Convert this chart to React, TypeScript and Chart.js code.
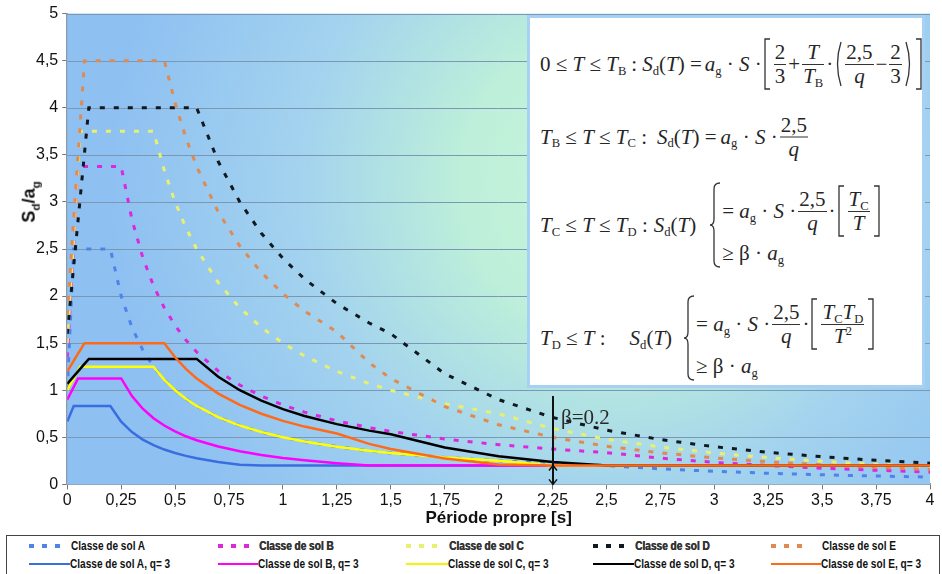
import React, { useEffect, useRef } from "react";
import { Chart, registerables } from "chart.js";
Chart.register(...registerables);

// Périodes T (s)
const periods = [0, 0.03, 0.05, 0.06, 0.08, 0.1, 0.15, 0.2, 0.25, 0.3, 0.35, 0.4, 0.45, 0.5, 0.55, 0.6, 0.7, 0.8, 0.9, 1, 1.1, 1.25, 1.4, 1.5, 1.75, 2, 2.25, 2.5, 2.75, 3, 3.25, 3.5, 3.75, 4];

// Spectres élastiques (pointillés)
const elasticA = [1.0, 2.5, 2.5, 2.5, 2.5, 2.5, 2.5, 2.5, 2.0, 1.667, 1.429, 1.25, 1.111, 1.0, 0.909, 0.833, 0.714, 0.625, 0.556, 0.5, 0.455, 0.4, 0.357, 0.333, 0.286, 0.25, 0.222, 0.2, 0.165, 0.139, 0.118, 0.102, 0.089, 0.078];
const elasticB = [1.35, 2.565, 3.375, 3.375, 3.375, 3.375, 3.375, 3.375, 3.375, 2.813, 2.411, 2.109, 1.875, 1.688, 1.534, 1.406, 1.205, 1.055, 0.938, 0.844, 0.767, 0.675, 0.603, 0.563, 0.482, 0.422, 0.375, 0.338, 0.279, 0.234, 0.2, 0.172, 0.15, 0.132];
const elasticC = [1.5, 2.625, 3.375, 3.75, 3.75, 3.75, 3.75, 3.75, 3.75, 3.75, 3.75, 3.75, 3.333, 3.0, 2.727, 2.5, 2.143, 1.875, 1.667, 1.5, 1.364, 1.2, 1.071, 1.0, 0.857, 0.75, 0.593, 0.48, 0.397, 0.333, 0.284, 0.245, 0.213, 0.188];
const elasticD = [1.6, 2.32, 2.8, 3.04, 3.52, 4.0, 4.0, 4.0, 4.0, 4.0, 4.0, 4.0, 4.0, 4.0, 4.0, 4.0, 3.429, 3.0, 2.667, 2.4, 2.182, 1.92, 1.714, 1.6, 1.176, 0.9, 0.711, 0.576, 0.476, 0.4, 0.341, 0.294, 0.256, 0.225];
const elasticE = [1.8, 2.813, 3.488, 3.825, 4.5, 4.5, 4.5, 4.5, 4.5, 4.5, 4.5, 4.5, 4.5, 4.05, 3.682, 3.375, 2.893, 2.531, 2.25, 2.025, 1.841, 1.62, 1.291, 1.125, 0.827, 0.633, 0.5, 0.405, 0.335, 0.281, 0.24, 0.207, 0.18, 0.158];

// Spectres de calcul q = 3 (traits pleins)
const designA = [0.667, 0.833, 0.833, 0.833, 0.833, 0.833, 0.833, 0.833, 0.667, 0.556, 0.476, 0.417, 0.37, 0.333, 0.303, 0.278, 0.238, 0.208, 0.2, 0.2, 0.2, 0.2, 0.2, 0.2, 0.2, 0.2, 0.2, 0.2, 0.2, 0.2, 0.2, 0.2, 0.2, 0.2];
const designB = [0.9, 1.035, 1.125, 1.125, 1.125, 1.125, 1.125, 1.125, 1.125, 0.938, 0.804, 0.703, 0.625, 0.563, 0.511, 0.469, 0.402, 0.352, 0.313, 0.281, 0.256, 0.225, 0.201, 0.2, 0.2, 0.2, 0.2, 0.2, 0.2, 0.2, 0.2, 0.2, 0.2, 0.2];
const designC = [1.0, 1.125, 1.208, 1.25, 1.25, 1.25, 1.25, 1.25, 1.25, 1.25, 1.25, 1.25, 1.111, 1.0, 0.909, 0.833, 0.714, 0.625, 0.556, 0.5, 0.455, 0.4, 0.357, 0.333, 0.286, 0.25, 0.2, 0.2, 0.2, 0.2, 0.2, 0.2, 0.2, 0.2];
const designD = [1.067, 1.147, 1.2, 1.227, 1.28, 1.333, 1.333, 1.333, 1.333, 1.333, 1.333, 1.333, 1.333, 1.333, 1.333, 1.333, 1.143, 1.0, 0.889, 0.8, 0.727, 0.64, 0.571, 0.533, 0.392, 0.3, 0.237, 0.2, 0.2, 0.2, 0.2, 0.2, 0.2, 0.2];
const designE = [1.2, 1.313, 1.388, 1.425, 1.5, 1.5, 1.5, 1.5, 1.5, 1.5, 1.5, 1.5, 1.5, 1.35, 1.227, 1.125, 0.964, 0.844, 0.75, 0.675, 0.614, 0.54, 0.43, 0.375, 0.276, 0.211, 0.2, 0.2, 0.2, 0.2, 0.2, 0.2, 0.2, 0.2];

const elasticLabels = ["Classe de sol A", "Classe de sol B", "Classe de sol C", "Classe de sol D", "Classe de sol E"];
const designLabels = ["Classe de sol A, q= 3", "Classe de sol B, q= 3", "Classe de sol C, q= 3", "Classe de sol D, q= 3", "Classe de sol E, q= 3"];

const xTickLabels = ["0", "0,25", "0,5", "0,75", "1", "1,25", "1,5", "1,75", "2", "2,25", "2,5", "2,75", "3", "3,25", "3,5", "3,75", "4"];
const yTickLabels = ["0", "0,5", "1", "1,5", "2", "2,5", "3", "3,5", "4", "4,5", "5"];

const betaPeriod = 2.25;
const betaValue = 0.2;
const betaLineTop = 0.94;
const betaText = "β=0.2";

const elasticColors = ["#4f82ea", "#dc28dc", "#e8f070", "#101820", "#e08a52"];
const designColors = ["#3a6ee0", "#ff00ff", "#ffff00", "#000000", "#ff6a1a"];

const toXY = (vals: number[]) => vals.map((y, i) => ({ x: periods[i], y }));

const bgPlugin = {
  id: "plotBg",
  beforeDatasetsDraw(chart: any) {
    const { ctx, chartArea } = chart;
    const { left, top, right, bottom } = chartArea;
    const w = right - left;
    const h = bottom - top;
    const cx = left + w * 0.63;
    const cy = top + h * 0.36;
    const g = ctx.createRadialGradient(cx, cy, 0, cx, cy, w * 0.58);
    g.addColorStop(0, "#c9f6d6");
    g.addColorStop(0.3, "#bdefda");
    g.addColorStop(0.62, "#a3d3ee");
    g.addColorStop(1, "#8ec0f2");
    ctx.save();
    ctx.fillStyle = g;
    ctx.fillRect(left, top, w, h);
    ctx.restore();
  },
};

const gridPlugin = {
  id: "gridOver",
  beforeDatasetsDraw(chart: any) {
    const { ctx, chartArea, scales } = chart;
    ctx.save();
    ctx.strokeStyle = "#7a98b4";
    ctx.lineWidth = 1;
    for (let v = 0.5; v <= 5.001; v += 0.5) {
      const y = Math.round(scales.y.getPixelForValue(v)) + 0.5;
      ctx.beginPath();
      ctx.moveTo(chartArea.left, y);
      ctx.lineTo(chartArea.right, y);
      ctx.stroke();
    }
    ctx.restore();
  },
};

const betaPlugin = {
  id: "beta",
  afterDatasetsDraw(chart: any) {
    const { ctx, scales } = chart;
    const x = Math.round(scales.x.getPixelForValue(betaPeriod));
    const y0 = scales.y.getPixelForValue(0);
    const yb = scales.y.getPixelForValue(betaValue);
    const yt = scales.y.getPixelForValue(betaLineTop);
    ctx.save();
    ctx.strokeStyle = "#111";
    ctx.lineWidth = 2;
    ctx.beginPath();
    ctx.moveTo(x, yt);
    ctx.lineTo(x, y0);
    ctx.stroke();
    ctx.lineWidth = 1.5;
    ctx.beginPath();
    ctx.moveTo(x - 4, yb + 5);
    ctx.lineTo(x, yb);
    ctx.lineTo(x + 4, yb + 5);
    ctx.moveTo(x - 4, y0 - 5);
    ctx.lineTo(x, y0);
    ctx.lineTo(x + 4, y0 - 5);
    ctx.stroke();
    ctx.fillStyle = "#2a2a2a";
    ctx.font = '21px "Liberation Serif", "Times New Roman", serif';
    ctx.textBaseline = "middle";
    ctx.fillText(betaText, x + 8, scales.y.getPixelForValue(0.7));
    ctx.restore();
  },
};

const serif = '"Liberation Serif", "Times New Roman", serif';

const Sub = ({ t }: { t: string }) => (
  <sub style={{ fontSize: "0.6em", fontStyle: "normal", verticalAlign: "-0.3em", lineHeight: 0 }}>{t}</sub>
);

const Frac = ({ n, d }: { n: React.ReactNode; d: React.ReactNode }) => (
  <span style={{ display: "inline-flex", flexDirection: "column", alignItems: "center", margin: "0 2px" }}>
    <span style={{ lineHeight: "23px", padding: "0 1px" }}>{n}</span>
    <span style={{ height: 0, borderTop: "1px solid #333", alignSelf: "stretch" }} />
    <span style={{ lineHeight: "23px", padding: "0 1px" }}>{d}</span>
  </span>
);

const Delim = ({ kind, h }: { kind: string; h: number }) => {
  let d = "";
  let w = 8;
  if (kind === "[") d = `M7,1 L2,1 L2,${h - 1} L7,${h - 1}`;
  if (kind === "]") d = `M1,1 L6,1 L6,${h - 1} L1,${h - 1}`;
  if (kind === "(") d = `M7,1 Q0,${h / 2} 7,${h - 1}`;
  if (kind === ")") d = `M1,1 Q8,${h / 2} 1,${h - 1}`;
  if (kind === "{") {
    w = 12;
    const m = h / 2;
    d = `M11,1 Q5,1 5,7 L5,${m - 6} Q5,${m} 1,${m} Q5,${m} 5,${m + 6} L5,${h - 7} Q5,${h - 1} 11,${h - 1}`;
  }
  return (
    <svg width={w} height={h} style={{ display: "block", margin: "0 1px" }}>
      <path d={d} fill="none" stroke="#333" strokeWidth={1.3} />
    </svg>
  );
};

const T = () => <i>T</i>;
const rowStyle: React.CSSProperties = {
  position: "absolute",
  left: 10,
  display: "flex",
  alignItems: "center",
  whiteSpace: "nowrap",
  transform: "translateY(-50%)",
};
const gap = (px: number) => <span style={{ display: "inline-block", width: px }} />;

function Formulas() {
  return (
    <div
      style={{
        position: "absolute",
        left: 527,
        top: 15,
        width: 392,
        height: 367,
        background: "#fff",
        border: "3px solid #a8d0f2",
        fontFamily: serif,
        fontSize: 21,
        color: "#262626",
      }}
    >
      <div style={{ ...rowStyle, top: 46 }}>
        <span>0 ≤ <T /> ≤ <T /><Sub t="B" /></span>{gap(5)}<span>:</span>{gap(5)}
        <span><i>S</i><Sub t="d" />(<T />) =</span>{gap(3)}<span><i>a</i><Sub t="g" /> · <i>S</i> ·</span>
        <Delim kind="[" h={52} />
        <Frac n="2" d="3" /><span>+</span><Frac n={<T />} d={<span><T /><Sub t="B" /></span>} /><span>·</span>
        <Delim kind="(" h={46} />
        <Frac n="2,5" d={<i>q</i>} /><span>−</span><Frac n="2" d="3" />
        <Delim kind=")" h={46} />
        <Delim kind="]" h={52} />
      </div>
      <div style={{ ...rowStyle, top: 119 }}>
        <span><T /><Sub t="B" /> ≤ <T /> ≤ <T /><Sub t="C" /> :</span>{gap(10)}
        <span><i>S</i><Sub t="d" />(<T />) =</span>{gap(4)}<span><i>a</i><Sub t="g" /> · <i>S</i> ·</span>
        <Frac n="2,5" d={<i>q</i>} />
      </div>
      <div style={{ ...rowStyle, top: 207 }}>
        <span><T /><Sub t="C" /> ≤ <T /> ≤ <T /><Sub t="D" /> :</span>{gap(6)}
        <span><i>S</i><Sub t="d" />(<T />)</span>{gap(12)}
        <Delim kind="{" h={86} />
        <div style={{ display: "flex", flexDirection: "column", alignItems: "flex-start" }}>
          <div style={{ display: "flex", alignItems: "center", height: 56 }}>
            <span>= <i>a</i><Sub t="g" /> · <i>S</i> ·</span>
            <Frac n="2,5" d={<i>q</i>} /><span>·</span>
            <Delim kind="[" h={52} />
            <Frac n={<span><T /><Sub t="C" /></span>} d={<T />} />
            <Delim kind="]" h={52} />
          </div>
          <div style={{ height: 28, display: "flex", alignItems: "center" }}>
            <span>≥ β · <i>a</i><Sub t="g" /></span>
          </div>
        </div>
      </div>
      <div style={{ ...rowStyle, top: 320 }}>
        <span><T /><Sub t="D" /> ≤ <T /> :</span>{gap(24)}
        <span><i>S</i><Sub t="d" />(<T />)</span>{gap(10)}
        <Delim kind="{" h={86} />
        <div style={{ display: "flex", flexDirection: "column", alignItems: "flex-start" }}>
          <div style={{ display: "flex", alignItems: "center", height: 56 }}>
            <span>= <i>a</i><Sub t="g" /> · <i>S</i> ·</span>
            <Frac n="2,5" d={<i>q</i>} /><span>·</span>
            <Delim kind="[" h={52} />
            <Frac n={<span><T /><Sub t="C" /><T /><Sub t="D" /></span>} d={<span><T /><sup style={{ fontSize: "0.6em", lineHeight: 0 }}>2</sup></span>} />
            <Delim kind="]" h={52} />
          </div>
          <div style={{ height: 28, display: "flex", alignItems: "center" }}>
            <span>≥ β · <i>a</i><Sub t="g" /></span>
          </div>
        </div>
      </div>
    </div>
  );
}

const legendTextLeft = [70, 258, 448, 634, 821];
const legendMarkLeft = [28, 217, 405, 592, 770];
const legendBold = [false, true, true, true, false];

function Legend() {
  const font = '"Liberation Sans", Arial, sans-serif';
  const textStyle: React.CSSProperties = {
    position: "absolute",
    lineHeight: "16px",
    display: "inline-block",
    transform: "scaleX(0.84)",
    transformOrigin: "0 50%",
    whiteSpace: "nowrap",
  };
  return (
    <div
      style={{
        position: "absolute",
        left: 6,
        top: 535,
        width: 934,
        height: 50,
        border: "1px solid #444",
        boxSizing: "border-box",
        fontFamily: font,
        fontSize: 12,
        fontWeight: "bold",
        color: "#111",
      }}
    >
      {elasticLabels.map((lab, i) => (
        <React.Fragment key={"e" + i}>
          <svg style={{ position: "absolute", left: legendMarkLeft[i] - 6, top: 7 }} width={36} height={6}>
            <line x1={0} y1={3} x2={36} y2={3} stroke={elasticColors[i]} strokeWidth={4} strokeDasharray="5 8" />
          </svg>
          <span
            style={{
              ...textStyle,
              left: legendTextLeft[i] - 6,
              top: 2,
              color: legendBold[i] ? "#333" : "#111",
              textShadow: legendBold[i] ? "0.6px 0 0 #333" : "none",
            }}
          >
            {lab}
          </span>
        </React.Fragment>
      ))}
      {designLabels.map((lab, i) => (
        <React.Fragment key={"d" + i}>
          <div
            style={{
              position: "absolute",
              left: legendMarkLeft[i] - 6,
              top: 27,
              width: legendTextLeft[i] - legendMarkLeft[i] - 1,
              height: 2,
              background: designColors[i] === "#ffff00" ? "#f4f400" : designColors[i],
            }}
          />
          <span style={{ ...textStyle, left: legendTextLeft[i] - 7, top: 20 }}>{lab}</span>
        </React.Fragment>
      ))}
    </div>
  );
}

export default function App() {
  const ref = useRef<HTMLCanvasElement | null>(null);
  useEffect(() => {
    if (!ref.current) return;
    const elastic = [elasticA, elasticB, elasticC, elasticD, elasticE];
    const design = [designA, designB, designC, designD, designE];
    const datasets: any[] = [];
    elastic.forEach((vals, i) =>
      datasets.push({
        label: elasticLabels[i],
        data: toXY(vals),
        borderColor: elasticColors[i],
        borderWidth: 3,
        borderDash: [5, 9],
        pointRadius: 0,
        fill: false,
        tension: 0,
        order: 10 - i,
      })
    );
    design.forEach((vals, i) =>
      datasets.push({
        label: designLabels[i],
        data: toXY(vals),
        borderColor: designColors[i],
        borderWidth: 2.5,
        pointRadius: 0,
        fill: false,
        tension: 0,
        order: 5 - i,
      })
    );
    const chart = new Chart(ref.current, {
      type: "line",
      data: { datasets },
      plugins: [bgPlugin, gridPlugin, betaPlugin],
      options: {
        animation: false,
        responsive: false,
        events: [],
        layout: { padding: { left: 32, top: 6, right: 12, bottom: 3 } },
        plugins: { legend: { display: false }, tooltip: { enabled: false } },
        scales: {
          x: {
            type: "linear",
            min: 0,
            max: 4,
            ticks: {
              stepSize: 0.25,
              autoSkip: false,
              maxRotation: 0,
              color: "#111",
              font: { family: '"Liberation Sans", Arial, sans-serif', size: 16 },
              padding: 2,
              callback: (v: any) => xTickLabels[Math.round(Number(v) / 0.25)],
            },
            grid: { drawOnChartArea: false, drawTicks: true, tickLength: 5, color: "#777" },
            border: { color: "#8a9aa8", width: 2 },
            title: {
              display: true,
              text: "Période propre [s]",
              color: "#111",
              font: { family: '"Liberation Sans", Arial, sans-serif', size: 17, weight: "bold" },
              padding: { top: -4, bottom: 0 },
            },
          },
          y: {
            min: 0,
            max: 5,
            ticks: {
              stepSize: 0.5,
              color: "#111",
              font: { family: '"Liberation Sans", Arial, sans-serif', size: 16 },
              padding: 4,
              callback: (v: any) => yTickLabels[Math.round(Number(v) / 0.5)],
            },
            grid: { drawOnChartArea: false, drawTicks: true, tickLength: 5, color: "#777" },
            border: { color: "#8a9aa8", width: 2 },
          },
        },
      } as any,
    });
    return () => chart.destroy();
  }, []);

  return (
    <div style={{ position: "fixed", left: 0, top: 0, width: 942, height: 574, background: "#fff", overflow: "hidden" }}>
      <canvas ref={ref} width={942} height={532} style={{ position: "absolute", left: 0, top: 0, display: "block" }} />
      <div
        style={{
          position: "absolute",
          left: 30,
          top: 202,
          transform: "translate(-50%, -50%) rotate(-90deg)",
          fontFamily: '"Liberation Sans", Arial, sans-serif',
          fontWeight: "bold",
          fontSize: 18,
          color: "#111",
          whiteSpace: "nowrap",
        }}
      >
        S<sub style={{ fontSize: "0.65em" }}>d</sub>/a<sub style={{ fontSize: "0.65em" }}>g</sub>
      </div>
      <Formulas />
      <Legend />
    </div>
  );
}
